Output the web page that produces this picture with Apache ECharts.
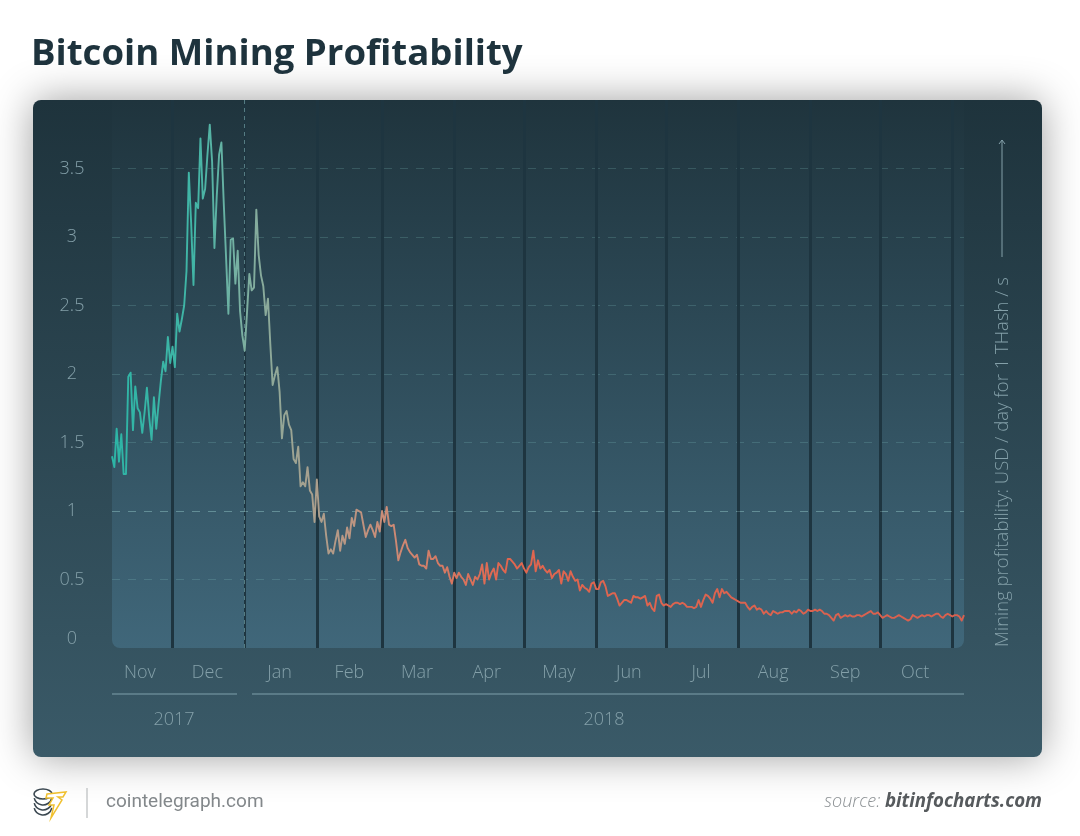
<!DOCTYPE html>
<html>
<head>
<meta charset="utf-8">
<title>Bitcoin Mining Profitability</title>
<style>
  html, body { margin: 0; padding: 0; background: #fff; }
  #chart { width: 1080px; height: 836px; }
</style>
</head>
<body>
<div id="chart"></div>
<script src="https://cdn.jsdelivr.net/npm/echarts@6/dist/echarts.min.js"></script>
<script>
// one reading per day, starting at firstDay
const firstDay = '2017-11-05';
const lastDay = '2018-11-06';
const profitability = [
  1.40,1.32,1.60,1.36,1.56,1.27,1.27,1.98,2.01,1.59,
  1.91,1.75,1.72,1.57,1.72,1.90,1.68,1.52,1.83,1.60,
  1.78,1.95,2.09,2.02,2.27,2.08,2.20,2.05,2.44,2.31,
  2.40,2.50,2.75,3.47,3.10,2.65,3.25,3.21,3.72,3.28,
  3.35,3.60,3.82,3.55,2.92,3.30,3.60,3.69,3.25,2.85,
  2.44,2.98,2.99,2.66,2.90,2.46,2.28,2.17,2.45,2.73,
  2.61,2.63,3.20,2.87,2.72,2.64,2.43,2.55,2.22,1.92,
  1.99,2.05,1.87,1.53,1.70,1.73,1.63,1.59,1.38,1.35,
  1.47,1.18,1.21,1.18,1.32,1.15,1.12,.92,1.23,.96,
  .92,.98,.82,.69,.72,.69,.78,.86,.71,.82,
  .76,.88,.80,.95,.89,1.01,1.00,.99,.90,.81,
  .86,.90,.86,.81,.92,.85,1.00,.92,1.03,.90,
  .89,.90,.78,.64,.70,.75,.79,.73,.70,.68,
  .66,.68,.61,.60,.60,.58,.71,.65,.65,.67,
  .62,.60,.60,.55,.59,.52,.47,.55,.51,.55,
  .52,.50,.46,.54,.50,.46,.52,.50,.54,.61,
  .47,.62,.50,.55,.58,.50,.62,.60,.57,.55,
  .65,.65,.63,.61,.58,.60,.62,.58,.55,.59,
  .61,.71,.56,.64,.58,.60,.57,.55,.57,.51,
  .54,.55,.57,.47,.56,.54,.49,.56,.52,.49,
  .50,.42,.46,.44,.43,.41,.47,.48,.43,.43,
  .48,.49,.45,.38,.39,.40,.40,.36,.31,.33,
  .35,.35,.34,.33,.38,.37,.37,.36,.37,.38,
  .31,.33,.29,.27,.38,.39,.33,.31,.32,.31,
  .30,.32,.33,.33,.32,.33,.32,.30,.30,.30,
  .29,.30,.35,.30,.35,.39,.38,.36,.33,.40,
  .43,.37,.43,.40,.41,.39,.37,.36,.35,.34,
  .33,.33,.33,.30,.28,.30,.31,.28,.29,.28,
  .25,.27,.25,.24,.27,.26,.25,.26,.26,.27,
  .27,.27,.25,.27,.26,.28,.27,.25,.26,.28,
  .27,.27,.28,.27,.28,.27,.25,.25,.24,.22,
  .20,.24,.25,.22,.23,.24,.23,.24,.23,.23,
  .24,.24,.23,.24,.25,.26,.27,.25,.25,.26,
  .24,.22,.23,.24,.23,.22,.22,.23,.24,.23,
  .22,.21,.20,.21,.24,.23,.22,.23,.24,.23,
  .24,.24,.23,.24,.25,.25,.23,.22,.24,.25,
  .24,.23,.24,.24,.23,.20,.24
];
const monthStarts = ['2017-12-01','2018-02-01','2018-03-01','2018-04-01','2018-05-01','2018-06-01','2018-07-01','2018-08-01','2018-09-01','2018-10-01','2018-11-01'];
const yearStart = '2018-01-01';
const monthNames = ['Nov','Dec','Jan','Feb','Mar','Apr','May','Jun','Jul','Aug','Sep','Oct'];
const monthMiddles = ['2017-11-17','2017-12-16','2018-01-16','2018-02-15','2018-03-16','2018-04-15','2018-05-16','2018-06-15','2018-07-16','2018-08-16','2018-09-16','2018-10-16'];

const parse = s => +echarts.time.parse(s);
const start = echarts.time.parse(firstDay);
const lineData = profitability.map((v, i) =>
  [+new Date(start.getFullYear(), start.getMonth(), start.getDate() + i), v]);
const labelValues = monthMiddles.map(parse);

const labelColor = '#84a0a9';
const font = '"Open Sans", sans-serif';
const vertical = (a, b) => new echarts.graphic.LinearGradient(0, 0, 0, 1, [
  { offset: 0, color: a }, { offset: 1, color: b }
]);

const myChart = echarts.init(document.getElementById('chart'));
myChart.setOption({
  animation: false,
  backgroundColor: '#fff',
  title: {
    text: 'Bitcoin Mining Profitability',
    left: 26,
    top: 31,
    textStyle: { fontFamily: font, fontWeight: 700, fontSize: 36.6, color: '#1e333d' }
  },
  grid: { left: 112, right: 116, top: 100, bottom: 188 },
  xAxis: {
    // plain numeric axis over timestamps, so the month names can sit mid-month
    type: 'value',
    min: parse(firstDay),
    max: parse(lastDay),
    axisLine: { show: false },
    axisTick: { show: false },
    splitLine: { show: false },
    axisLabel: {
      customValues: labelValues,
      formatter: value => monthNames[labelValues.indexOf(value)] || '',
      margin: 16,
      hideOverlap: false,
      color: labelColor,
      fontFamily: font,
      fontWeight: 300,
      fontSize: 18
    }
  },
  yAxis: {
    type: 'value',
    min: 0,
    max: 4,
    interval: 0.5,
    axisLine: { show: false },
    axisTick: { show: false },
    axisLabel: {
      margin: 40,
      align: 'center',
      verticalAlignMinLabel: 'bottom',
      padding: [3, 0, 0, 0],
      formatter: value => (value === 4 ? '' : String(value)),
      color: value => (value === 1 ? '#c3d2d6' : labelColor),
      fontFamily: font,
      fontWeight: 300,
      fontSize: 18
    },
    splitLine: {
      showMinLine: false,
      showMaxLine: false,
      lineStyle: { color: 'rgba(140,210,205,0.2)', type: [8, 8], width: 1 }
    }
  },
  series: [{
    type: 'line',
    z: 10,
    showSymbol: false,
    data: lineData,
    lineStyle: {
      width: 1.9,
      join: 'round',
      color: new echarts.graphic.LinearGradient(0, 0, 1, 0, [
        { offset: 0, color: '#2cb5a6' },
        { offset: 0.1, color: '#42b5a6' },
        { offset: 0.15, color: '#78b0a2' },
        { offset: 0.24, color: '#ab9f8d' },
        { offset: 0.33, color: '#cd8a75' },
        { offset: 0.46, color: '#e1664f' },
        { offset: 1, color: '#d8604f' }
      ])
    },
    markLine: {
      silent: true,
      symbol: 'none',
      label: { show: false },
      animation: false,
      data: monthStarts.map(d => ({
        xAxis: parse(d),
        lineStyle: { color: '#1e3540', width: 3, type: 'solid', opacity: 1 }
      })).concat([
        { xAxis: parse(yearStart), lineStyle: { color: '#1e3540', width: 2, type: 'solid', opacity: 1 } },
        { xAxis: parse(yearStart), lineStyle: { color: 'rgba(140,195,195,0.5)', width: 1, type: [4, 4], opacity: 1 } },
        { yAxis: 1, lineStyle: { color: 'rgba(175,225,225,0.25)', width: 1, type: [8, 8], opacity: 1 } }
      ])
    }
  }],
  graphic: { elements: [
    // card and plot panel sit behind the axes
    { type: 'rect', z: -20, silent: true,
      shape: { x: 33, y: 100, width: 1009, height: 657, r: 8 },
      style: { fill: vertical('#1e333c', '#3a5a68'), shadowBlur: 40, shadowColor: 'rgba(0,0,0,0.38)' } },
    { type: 'rect', z: -19, silent: true,
      shape: { x: 112, y: 101, width: 852, height: 547, r: [0, 0, 8, 8] },
      style: { fill: vertical('#1f343d', '#40677a') } },
    // year brackets
    { type: 'line', z: 1, silent: true, shape: { x1: 112, y1: 694, x2: 237, y2: 694 }, style: { stroke: '#7fa0ab', lineWidth: 1 } },
    { type: 'line', z: 1, silent: true, shape: { x1: 252, y1: 694, x2: 964, y2: 694 }, style: { stroke: '#7fa0ab', lineWidth: 1 } },
    { type: 'text', z: 1, silent: true, style: { x: 174, y: 720, text: '2017', align: 'center', verticalAlign: 'middle', fill: labelColor, font: '300 18px "Open Sans"' } },
    { type: 'text', z: 1, silent: true, style: { x: 604, y: 720, text: '2018', align: 'center', verticalAlign: 'middle', fill: labelColor, font: '300 18px "Open Sans"' } },
    // axis title and arrow on the right
    { type: 'text', z: 1, silent: true, x: 1003, y: 647, rotation: Math.PI / 2,
      style: { x: 0, y: 0, text: 'Mining profitability: USD / day for 1 THash / s', align: 'left', verticalAlign: 'middle', fill: labelColor, font: '300 18.5px "Open Sans"' } },
    { type: 'line', z: 1, silent: true, shape: { x1: 1002, y1: 257, x2: 1002, y2: 140 }, style: { stroke: '#84a0a9', lineWidth: 1 } },
    { type: 'polyline', z: 1, silent: true, shape: { points: [[999, 144], [1002, 140], [1005, 144]] }, style: { stroke: '#84a0a9', lineWidth: 1, fill: null } },
    // footer
    { type: 'ellipse', silent: true, shape: { cx: 43, cy: 794, rx: 9, ry: 5 }, style: { stroke: '#3a4750', lineWidth: 1.6, fill: '#fff' } },
    { type: 'arc', silent: true, shape: { cx: 43, cy: 796, r: 9, startAngle: 0.2, endAngle: 2.9 }, style: { stroke: '#3a4750', lineWidth: 1.6, fill: null } },
    { type: 'arc', silent: true, shape: { cx: 43, cy: 801, r: 9, startAngle: 0.2, endAngle: 2.9 }, style: { stroke: '#3a4750', lineWidth: 1.6, fill: null } },
    { type: 'arc', silent: true, shape: { cx: 43, cy: 806, r: 9, startAngle: 0.2, endAngle: 2.9 }, style: { stroke: '#3a4750', lineWidth: 1.6, fill: null } },
    { type: 'polygon', silent: true, shape: { points: [[47, 794], [66, 792], [63, 797], [58, 797], [62, 800], [51, 818], [54, 805], [49, 805], [53, 798], [46, 798]] },
      style: { fill: '#fff', stroke: '#f0c02f', lineWidth: 1.5 } },
    { type: 'line', silent: true, shape: { x1: 87, y1: 788, x2: 87, y2: 818 }, style: { stroke: '#b9bcbe', lineWidth: 1.2 } },
    { type: 'text', silent: true, style: { x: 106, y: 802, text: 'cointelegraph.com', verticalAlign: 'middle', fill: '#83888b', font: '19px Roboto' } },
    { type: 'text', silent: true, style: { x: 1042, y: 802, text: '{a|source: }{b|bitinfocharts.com}', align: 'right', verticalAlign: 'middle',
      rich: {
        a: { fill: '#8b9093', font: 'italic 300 18px "Open Sans"' },
        b: { fill: '#565a5d', font: 'italic 700 18.7px "Open Sans"' }
      } } }
  ] }
});
</script>
</body>
</html>
